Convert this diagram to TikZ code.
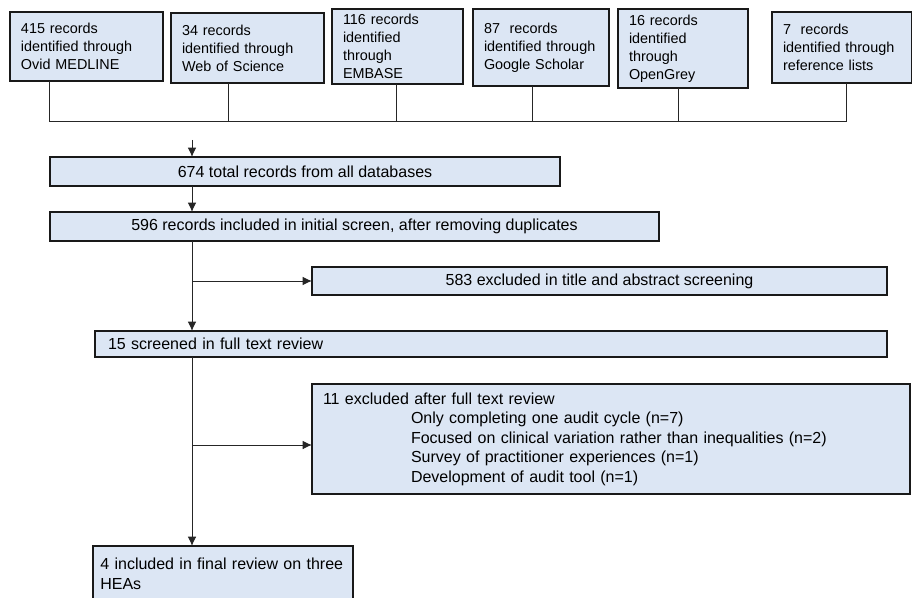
\documentclass[tikz,border=0pt]{standalone}
\usepackage{fontspec}
\setmainfont{Liberation Sans}
\usetikzlibrary{arrows.meta}
\definecolor{boxblue}{RGB}{220,230,244}
\begin{document}
\begin{tikzpicture}[x=0.75pt,y=-0.75pt,>={Latex[length=7pt,width=6.5pt]},
	box/.style={draw=black!90,line width=0.8pt,fill=boxblue,anchor=north west,outer sep=0pt},
	srcbox/.style={box,align=left,inner xsep=8.25pt,inner ysep=0pt,font=\fontsize{10.8}{13.5}\selectfont},
	stepbox/.style={box,inner sep=0pt,font=\fontsize{12}{14.6}\selectfont},
	link/.style={line width=0.75pt,draw=black!85}]
	\useasboundingbox (0,0) rectangle (912,598);
	% sources
	\node[srcbox,text width=98.25pt,minimum height=51.75pt] (ovid) at (10,12) {415 records\\identified through\\Ovid MEDLINE};
	\node[srcbox,text width=98.25pt,minimum height=52.5pt] (wos) at (171,13) {34 records\\identified through\\Web of Science};
	\node[srcbox,text width=81.75pt,minimum height=56.25pt] (embase) at (332,9) {116 records\\identified\\through\\EMBASE};
	\node[srcbox,text width=85.5pt,minimum height=57.75pt] (scholar) at (473,9) {87\ \ records\\identified through\\Google Scholar};
	\node[srcbox,text width=81pt,minimum height=59.25pt] (grey) at (618,9) {16 records\\identified\\through\\OpenGrey};
	\node[srcbox,text width=88.5pt,minimum height=53.25pt] (reflist) at (772,12) {7\ \ records\\identified through\\reference lists};
	\coordinate (j1) at (49,122);
	\coordinate (j2) at (228,122);
	\coordinate (j3) at (396,122);
	\coordinate (j4) at (532,122);
	\coordinate (j5) at (678,122);
	\coordinate (j6) at (846,122);
	\foreach \b/\j in {ovid/j1,wos/j2,embase/j3,scholar/j4,grey/j5,reflist/j6}
		\draw[link] (\b.south -| \j) -- (\j);
	\draw[link] (j1) -- (j6);
	% screening steps
	\coordinate (feed) at (192,140);
	\node[stepbox,minimum width=382.5pt,minimum height=21.75pt] (total) at (50,157) {674 total records from all databases};
	\node[stepbox,minimum width=456.75pt,minimum height=21.75pt] (screen) at (50,212) {596 records included in initial screen, after removing duplicates};
	\node[stepbox,minimum width=431.25pt,minimum height=21pt] (absx) at (312,267) {583 excluded in title and abstract screening};
	\node[stepbox,align=left,inner xsep=9.75pt,text width=574.5pt,minimum height=19.5pt] (fulltext) at (95,331) {15 screened in full text review};
	\node[stepbox,align=left,inner xsep=8.25pt,text width=432pt,minimum height=82.5pt] (fullx) at (312,384) {11 excluded after full text review\\
		\hspace*{66pt}Only completing one audit cycle (n=7)\\
		\hspace*{66pt}Focused on clinical variation rather than inequalities (n=2)\\
		\hspace*{66pt}Survey of practitioner experiences (n=1)\\
		\hspace*{66pt}Development of audit tool (n=1)};
	\node[stepbox,align=left,inner xsep=5.5pt,text width=184pt,minimum height=42pt] (final) at (93,546) {4 included in final review on three\\HEAs};
	\coordinate (fork) at (192,445);
	\draw[link,->] (feed) -- (feed |- total.north);
	\draw[link,->] (total.south -| feed) -- (screen.north -| feed);
	\draw[link,->] (screen.south -| feed) -- (fulltext.north -| feed);
	\draw[link,->] (feed |- absx.west) -- (absx.west);
	\draw[link,->] (fulltext.south -| feed) -- (final.north -| feed);
	\draw[link,->] (fork) -- (fork -| fullx.west);
\end{tikzpicture}
\end{document}
